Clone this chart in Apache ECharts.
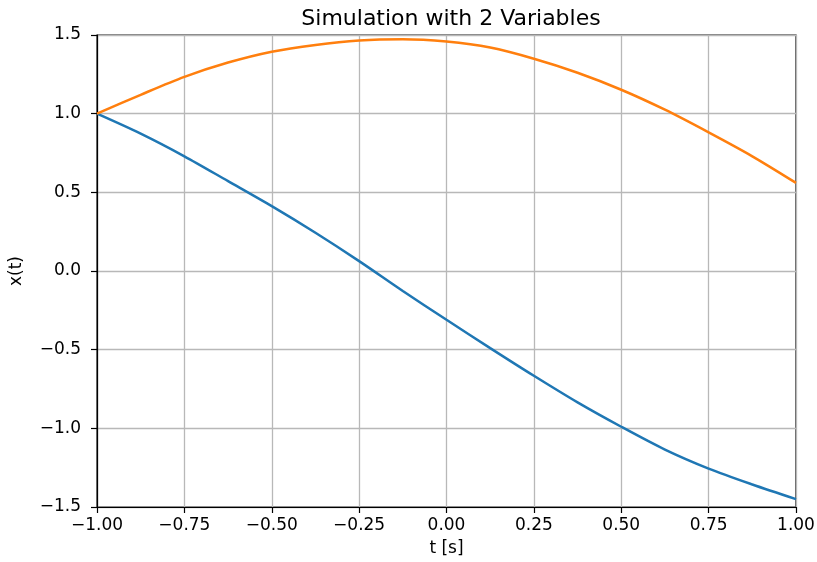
<!DOCTYPE html>
<html>
<head>
<meta charset="utf-8">
<script src="https://cdn.jsdelivr.net/npm/echarts@6/dist/echarts.min.js"></script>
<style>
    html, body { margin: 0; padding: 0; background: #fff; }
    #main { width: 817px; height: 562px; }
</style>
</head>
<body>
<div id="main"></div>
<script>
// values
let tValues = [-1, -0.875, -0.75, -0.625, -0.5, -0.375, -0.25, -0.125, 0, 0.125, 0.25, 0.375, 0.5, 0.625, 0.75, 0.875, 1];
let x1Values = [1.0, 0.873, 0.729, 0.571, 0.412, 0.243, 0.063, -0.127, -0.31, -0.49, -0.666, -0.835, -0.99, -1.135, -1.256, -1.357, -1.45];
let x2Values = [1.0, 1.12, 1.234, 1.325, 1.394, 1.437, 1.465, 1.473, 1.458, 1.42, 1.349, 1.26, 1.152, 1.025, 0.881, 0.729, 0.56];

let font = 'DejaVu Sans';

function fmt(d) {
    return function (v) {
        let s = Math.abs(v).toFixed(d);
        return (v < -1e-9 ? '\u2212' : '') + s;
    };
}

function pairs(ys) {
    return tValues.map(function (t, i) { return [t, ys[i]]; });
}

let myChart = echarts.init(document.getElementById('main'));
let option = {
    animation: false,
    title: {
        text: 'Simulation with 2 Variables',
        left: 446,
        textAlign: 'center',
        top: 3,
        textStyle: {fontFamily: font, fontSize: 22, fontWeight: 'normal', color: '#000'}
    },
    grid: {
        left: 97, right: 21, top: 35, bottom: 55,
        outerBoundsMode: 'none',
        containLabel: false,
        show: true, borderColor: '#000', borderWidth: 1.2, backgroundColor: '#fff'
    },
    xAxis: {
        type: 'value',
        min: -1, max: 1, interval: 0.25,
        name: 't [s]',
        nameLocation: 'middle',
        nameGap: 33,
        nameTextStyle: {fontFamily: font, fontSize: 17, color: '#000'},
        axisLine: {show: true, onZero: false, lineStyle: {color: '#000', width: 1.2}},
        axisTick: {show: true, inside: false, length: 6, lineStyle: {color: '#000', width: 1.2}},
        axisLabel: {margin: 10, fontFamily: font, fontSize: 17, color: '#000', formatter: fmt(2), showMinLabel: true, showMaxLabel: true},
        splitLine: {show: true, lineStyle: {color: '#b8b8b8', width: 1.3}}
    },
    yAxis: {
        type: 'value',
        min: -1.5, max: 1.5, interval: 0.5,
        name: 'x(t)',
        nameLocation: 'middle',
        nameGap: 72,
        nameTextStyle: {fontFamily: font, fontSize: 17, color: '#000'},
        axisLine: {show: true, onZero: false, lineStyle: {color: '#000', width: 1.2}},
        axisTick: {show: true, inside: false, length: 6, lineStyle: {color: '#000', width: 1.2}},
        axisLabel: {margin: 16, fontFamily: font, fontSize: 17, color: '#000', formatter: fmt(1), showMinLabel: true, showMaxLabel: true},
        splitLine: {show: true, lineStyle: {color: '#b8b8b8', width: 1.3}}
    },
    series: [
        {
            name: 'x1',
            type: 'line',
            data: pairs(x1Values),
            showSymbol: false,
            smooth: 0.3,
            lineStyle: {color: '#1f77b4', width: 2.5},
            itemStyle: {color: '#1f77b4'}
        },
        {
            name: 'x2',
            type: 'line',
            data: pairs(x2Values),
            showSymbol: false,
            smooth: 0.3,
            lineStyle: {color: '#ff7f0e', width: 2.5},
            itemStyle: {color: '#ff7f0e'}
        }
    ]
};
myChart.setOption(option);
</script>
</body>
</html>
